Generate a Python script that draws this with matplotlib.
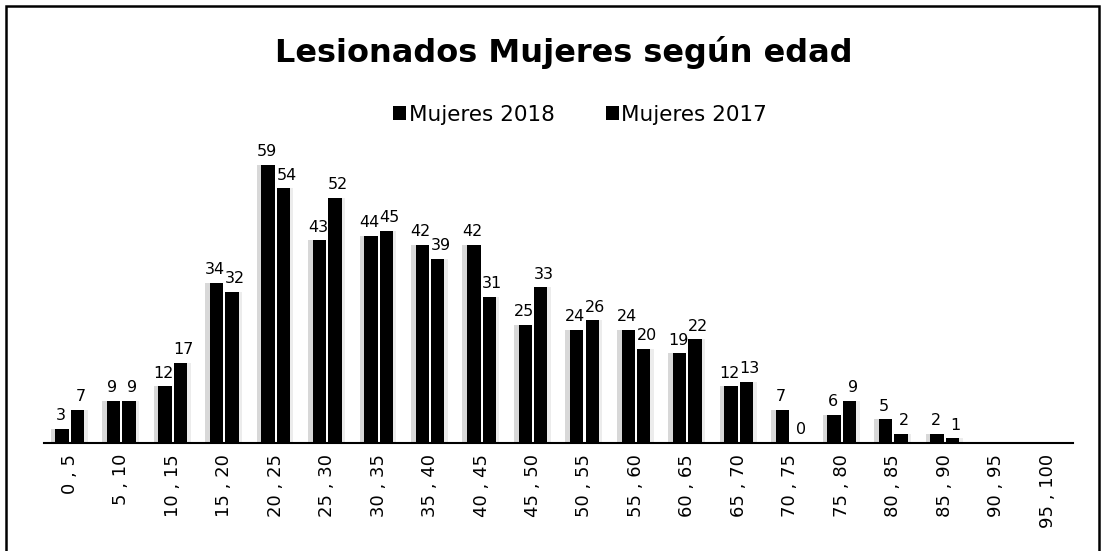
import matplotlib
matplotlib.use("Agg")
import matplotlib.pyplot as plt
from matplotlib.patches import Rectangle
import numpy as np

categories = ["0 , 5", "5 , 10", "10 , 15", "15 , 20", "20 , 25", "25 , 30", "30 , 35",
              "35 , 40", "40 , 45", "45 , 50", "50 , 55", "55 , 60", "60 , 65", "65 , 70",
              "70 , 75", "75 , 80", "80 , 85", "85 , 90", "90 , 95", "95 , 100"]
mujeres_2018 = [3, 9, 12, 34, 59, 43, 44, 42, 42, 25, 24, 24, 19, 12, 7, 6, 5, 2, 0, 0]
mujeres_2017 = [7, 9, 17, 32, 54, 52, 45, 39, 31, 33, 26, 20, 22, 13, 0, 9, 2, 1, 0, 0]
labels_2018 = [True] * 18 + [False, False]
labels_2017 = [True] * 18 + [False, False]

plt.rcParams['font.family'] = ['DejaVu Sans']

fig = plt.figure(figsize=(11.01, 5.51), dpi=100)
ax = fig.add_axes([0.040, 0.196, 0.935, 0.599])

x = np.arange(len(categories))
w = 0.26
# faint shadow bars
ax.bar(x - w * 1.1, mujeres_2018, width=0.17, color="#d8d8d8", zorder=1)
ax.bar(x + w * 1.1, mujeres_2017, width=0.12, color="#ececec", zorder=1)
b1 = ax.bar(x - w / 2 - 0.02, mujeres_2018, width=w, color="black", label="Mujeres 2018", zorder=2)
b2 = ax.bar(x + w / 2 + 0.02, mujeres_2017, width=w, color="black", label="Mujeres 2017", zorder=2)

for xi, v, show in zip(x, mujeres_2018, labels_2018):
    if show:
        ax.text(xi - w / 2 - 0.05, v + 1.2, str(v), ha="center", va="bottom", fontsize=11.5)
for xi, v, show in zip(x, mujeres_2017, labels_2017):
    if show:
        ax.text(xi + w / 2 + 0.08, v + 1.2, str(v), ha="center", va="bottom", fontsize=11.5)

ax.set_xlim(-0.5, len(categories) - 0.5)
ax.set_ylim(0, 70)
ax.set_xticks(x)
ax.set_xticklabels(categories, rotation=90, fontsize=13)
ax.tick_params(axis="x", length=0, pad=8)
ax.set_yticks([])
for s in ["top", "right", "left"]:
    ax.spines[s].set_visible(False)
ax.spines["bottom"].set_linewidth(1.5)

fig.text(0.512, 0.905, "Lesionados Mujeres según edad", ha="center", va="center",
         fontsize=23, fontweight="bold")
fig.legend(handles=[b1, b2], loc="center", bbox_to_anchor=(0.527, 0.792), ncol=2,
           frameon=False, fontsize=15.5, handlelength=0.6, handleheight=0.6,
           handletextpad=0.1, columnspacing=2.4)

fig.patches.append(Rectangle((0.005, -0.1), 0.993, 1.09, transform=fig.transFigure,
                             fill=False, edgecolor="black", linewidth=1.8))

fig.savefig("out.png", dpi=100)
